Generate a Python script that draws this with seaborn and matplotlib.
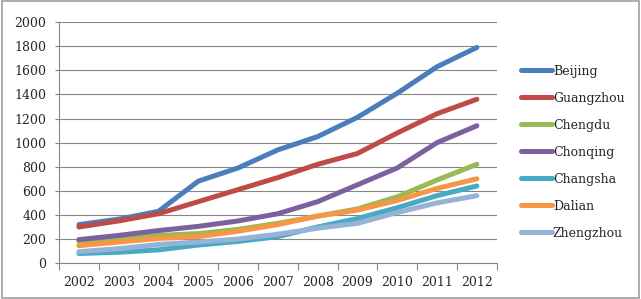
import matplotlib
matplotlib.use("Agg")
import matplotlib.pyplot as plt
import seaborn as sns
import pandas as pd
from matplotlib.ticker import FixedLocator, MultipleLocator
from matplotlib.patches import Rectangle

years = ["2002", "2003", "2004", "2005", "2006", "2007", "2008", "2009", "2010", "2011", "2012"]
cities = ["Beijing", "Guangzhou", "Chengdu", "Chonqing", "Changsha", "Dalian", "Zhengzhou"]
beijing = [320, 365, 430, 680, 790, 940, 1050, 1210, 1410, 1630, 1790]
guangzhou = [300, 350, 410, 510, 610, 710, 820, 910, 1080, 1240, 1360]
chengdu = [180, 200, 230, 245, 280, 330, 390, 450, 550, 690, 820]
chonqing = [195, 230, 270, 305, 350, 410, 510, 650, 790, 1000, 1140]
changsha = [80, 90, 110, 150, 180, 220, 300, 370, 460, 560, 640]
dalian = [145, 175, 205, 220, 265, 320, 390, 440, 520, 620, 700]
zhengzhou = [95, 120, 155, 175, 200, 240, 290, 330, 420, 500, 560]
colors = ["#4A7EBB", "#BE4B48", "#98B954", "#7D60A0", "#46AAC5", "#F79646", "#95B3D7"]

series = [beijing, guangzhou, chengdu, chonqing, changsha, dalian, zhengzhou]
rows = []
for c, vals in zip(cities, series):
    for i, (y, v) in enumerate(zip(years, vals)):
        rows.append({"pos": i, "year": y, "city": c, "value": v})
df = pd.DataFrame(rows)

sns.set_style("white")
plt.rcParams["font.family"] = ["DejaVu Serif"]

fig = plt.figure(figsize=(6.41, 2.99), dpi=100)
ax = fig.add_axes([0.092, 0.120, 0.683, 0.806])

sns.lineplot(data=df, x="pos", y="value", hue="city", hue_order=cities,
             palette=colors, linewidth=3.6, ax=ax, legend=True,
             solid_capstyle="round")

ax.set_xlim(-0.5, 10.5)
ax.set_ylim(0, 2000)
ax.yaxis.set_major_locator(MultipleLocator(200))
ax.set_xticks(range(len(years)))
ax.set_xticklabels(years)
ax.xaxis.set_minor_locator(FixedLocator([i - 0.5 for i in range(len(years) + 1)]))
ax.tick_params(axis="x", which="major", length=0, pad=9, labelsize=9)
ax.tick_params(axis="x", which="minor", length=5, width=0.8, color="#868686", direction="out", bottom=True)
ax.tick_params(axis="y", which="major", length=3, width=0.8, color="#868686", direction="out", left=True, labelsize=9, pad=6)
ax.grid(axis="y", color="#868686", linewidth=0.8)
ax.set_axisbelow(True)
for s in ["top", "right"]:
    ax.spines[s].set_visible(False)
for s in ["left", "bottom"]:
    ax.spines[s].set_color("#868686")
    ax.spines[s].set_linewidth(0.8)
ax.set_xlabel("")
ax.set_ylabel("")

handles, labels = ax.get_legend_handles_labels()
leg = ax.legend(handles, labels, loc="upper left", bbox_to_anchor=(0.805, 0.80),
                bbox_transform=fig.transFigure, frameon=False, fontsize=9,
                handlelength=2.5, handletextpad=0.05, labelspacing=1.12,
                borderaxespad=0)
for h in leg.get_lines():
    h.set_linewidth(3.6)

fig.patches.append(Rectangle((0.003, 0.005), 0.994, 0.99, transform=fig.transFigure,
                             fill=False, edgecolor="#A0A0A0", linewidth=1.2))

fig.savefig("out.png", dpi=100)
